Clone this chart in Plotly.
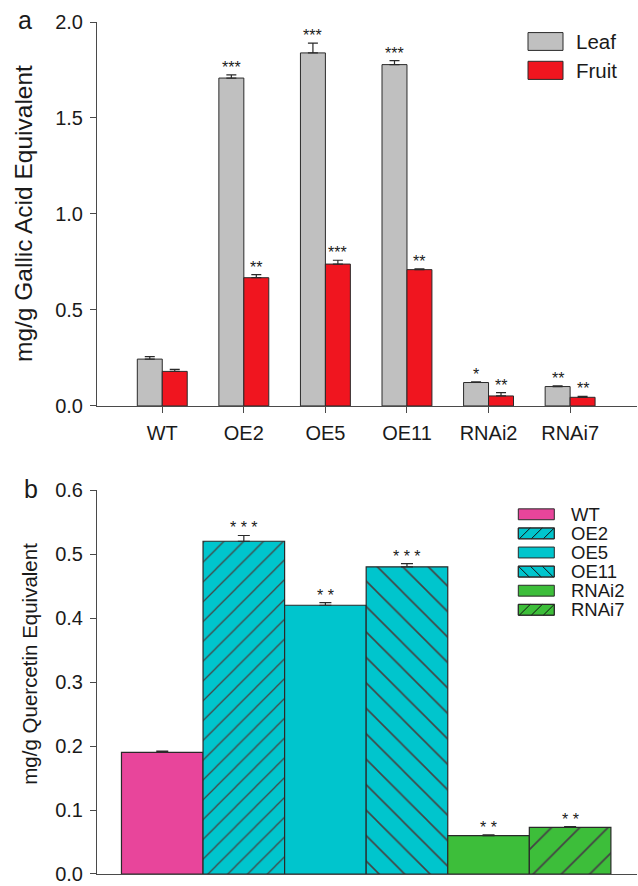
import plotly.graph_objects as go

# ---- data -------------------------------------------------------------
lines_ = ["WT", "OE2", "OE5", "OE11", "RNAi2", "RNAi7"]

# panel a: total phenolics (mg/g gallic acid equivalent)
leaf_vals = [0.244, 1.708, 1.839, 1.778, 0.122, 0.101]
leaf_err = [0.013, 0.017, 0.051, 0.021, 0.004, 0.004]
leaf_sig = ["", "***", "***", "***", "*", "**"]
fruit_vals = [0.180, 0.668, 0.739, 0.710, 0.052, 0.045]
fruit_err = [0.010, 0.016, 0.020, 0.004, 0.017, 0.005]
fruit_sig = ["", "**", "***", "**", "**", "**"]

# panel b: total flavonoids (mg/g quercetin equivalent)
flav_vals = [0.190, 0.520, 0.420, 0.480, 0.060, 0.073]
flav_err = [0.002, 0.009, 0.004, 0.005, 0.001, 0.001]
flav_sig = ["", "* * *", "* *", "* * *", "* *", "* *"]

yticks_a = [0.0, 0.5, 1.0, 1.5, 2.0]
yticks_b = [0.0, 0.1, 0.2, 0.3, 0.4, 0.5, 0.6]

# ---- styling ------------------------------------------------------------
FONT = "Liberation Sans, Arial, sans-serif"
TXT = "#1a1a1a"
AXC = "#4a4a4a"
EDGE = "#2a2a2a"
LEAF_C = "#C0C0C0"
FRUIT_C = "#F0151F"
flav_colors = ["#E8459B", "#00C5CD", "#00C5CD", "#00C5CD", "#3DBE3A", "#3DBE3A"]
flav_hatch = ["", "/", "", "\\", "", "/"]
flav_hsize = [10, 14, 10, 18, 10, 20]

TICK_FS = 20
LEG_A_FS = 20.5
LEG_B_FS = 18.5

W, H = 638, 886
ML, MR, MT, MB = 97, 1, 22, 3
PW, PH = W - ML - MR, H - MT - MB


def fx(px):
    return (px - ML) / PW


def fy(py):
    return (H - MB - py) / PH


XR = [-0.8, 5.82]
BW_A = 0.306

fig = go.Figure()

# panel a bars
fig.add_trace(go.Bar(
    x=lines_, y=leaf_vals, width=BW_A, offset=-BW_A, name="Leaf",
    marker=dict(color=LEAF_C, line=dict(color=EDGE, width=1)),
    error_y=dict(type="data", array=leaf_err, arrayminus=[0] * 6, symmetric=False,
                 color=EDGE, thickness=1.2, width=5),
    xaxis="x", yaxis="y", showlegend=False))
fig.add_trace(go.Bar(
    x=lines_, y=fruit_vals, width=BW_A, offset=0, name="Fruit",
    marker=dict(color=FRUIT_C, line=dict(color=EDGE, width=1)),
    error_y=dict(type="data", array=fruit_err, arrayminus=[0] * 6, symmetric=False,
                 color=EDGE, thickness=1.2, width=5),
    xaxis="x", yaxis="y", showlegend=False))

# panel b bars
fig.add_trace(go.Bar(
    x=lines_, y=flav_vals, width=1.0, offset=-0.5,
    marker=dict(color=flav_colors, line=dict(color=EDGE, width=1.2),
                pattern=dict(shape=flav_hatch, size=flav_hsize, solidity=0.09,
                             fgcolor="#111111", fgopacity=1, fillmode="overlay")),
    error_y=dict(type="data", array=flav_err, arrayminus=[0] * 6, symmetric=False,
                 color=EDGE, thickness=1.2, width=6),
    xaxis="x2", yaxis="y2", showlegend=False))

ann = []
# significance marks
for i in range(len(lines_)):
    if leaf_sig[i]:
        ann.append(dict(x=i - BW_A / 2, y=leaf_vals[i] + leaf_err[i], xref="x", yref="y",
                        text=leaf_sig[i], showarrow=False, yanchor="bottom",
                        font=dict(family=FONT, size=16, color=TXT), yshift=-3))
    if fruit_sig[i]:
        ann.append(dict(x=i + BW_A / 2, y=fruit_vals[i] + fruit_err[i], xref="x", yref="y",
                        text=fruit_sig[i], showarrow=False, yanchor="bottom",
                        font=dict(family=FONT, size=16, color=TXT), yshift=-3))
    if flav_sig[i]:
        ann.append(dict(x=i, y=flav_vals[i] + flav_err[i], xref="x2", yref="y2",
                        text=flav_sig[i], showarrow=False, yanchor="bottom",
                        font=dict(family=FONT, size=16, color=TXT), yshift=-3))

# axis titles and panel letters
ann.append(dict(x=fx(24), y=fy(216), xref="paper", yref="paper", textangle=-90,
                text="mg/g Gallic Acid Equivalent", showarrow=False,
                xanchor="center", yanchor="middle", font=dict(family=FONT, size=24.5, color=TXT)))
ann.append(dict(x=fx(29.5), y=fy(671), xref="paper", yref="paper", textangle=-90,
                text="mg/g Quercetin Equivalent", showarrow=False,
                xanchor="center", yanchor="middle", font=dict(family=FONT, size=20.5, color=TXT)))
ann.append(dict(x=fx(25), y=fy(19.5), xref="paper", yref="paper", text="a", showarrow=False,
                xanchor="center", yanchor="middle", font=dict(family=FONT, size=25, color=TXT)))
ann.append(dict(x=fx(31), y=fy(494), xref="paper", yref="paper", text="b", showarrow=False,
                xanchor="center", yanchor="middle", font=dict(family=FONT, size=25, color=TXT)))

shapes = []


def box(x0, y0, x1, y1, color):
    shapes.append(dict(type="rect", xref="paper", yref="paper",
                       x0=fx(x0), x1=fx(x1), y0=fy(y1), y1=fy(y0),
                       fillcolor=color, line=dict(color=EDGE, width=1), layer="above"))


def hatch(x0, y0, x1, y1, kind, step):
    # 45-degree hatch lines clipped to a pixel box (y grows downward)
    h = y1 - y0
    k = x0 - h
    while k < x1:
        # "/" runs from bottom-left (k, y1) to top-right (k + h, y0)
        ax, ay, bx, by = k, y1, k + h, y0
        if ax < x0:
            ay -= (x0 - ax)
            ax = x0
        if bx > x1:
            by += (bx - x1)
            bx = x1
        if bx > ax:
            if kind == "\\":
                ax, bx = x0 + x1 - ax, x0 + x1 - bx
            shapes.append(dict(type="line", xref="paper", yref="paper",
                               x0=fx(ax), y0=fy(ay), x1=fx(bx), y1=fy(by),
                               line=dict(color="#111111", width=1), layer="above"))
        k += step


# legend for panel a
legend_a = [("Leaf", LEAF_C, 32.7, 50.7), ("Fruit", FRUIT_C, 61.7, 80.0)]
for name, col, y0, y1 in legend_a:
    box(528, y0, 563, y1, col)
    ann.append(dict(x=fx(574), y=fy((y0 + y1) / 2), xref="paper", yref="paper", text=name,
                    showarrow=False, xanchor="left", yanchor="middle",
                    font=dict(family=FONT, size=LEG_A_FS, color=TXT)))

# legend for panel b
for i, name in enumerate(lines_):
    cy = 519.5 + i * 19.3
    y0, y1 = cy - 5.5, cy + 5.5
    box(518.3, y0, 554.3, y1, flav_colors[i])
    if flav_hatch[i]:
        hatch(518.3, y0, 554.3, y1, flav_hatch[i], 12)
        shapes.append(dict(type="rect", xref="paper", yref="paper",
                           x0=fx(518.3), x1=fx(554.3), y0=fy(y1), y1=fy(y0),
                           line=dict(color=EDGE, width=1), layer="above"))
    ann.append(dict(x=fx(569), y=fy(cy), xref="paper", yref="paper", text=name,
                    showarrow=False, xanchor="left", yanchor="middle",
                    font=dict(family=FONT, size=LEG_B_FS, color=TXT)))

axis_common = dict(showline=True, linecolor=AXC, linewidth=1, showgrid=False, zeroline=False,
                   ticks="outside", ticklen=6, tickcolor=AXC, tickwidth=1,
                   tickfont=dict(family=FONT, size=TICK_FS, color=TXT))

fig.update_layout(
    width=W, height=H,
    margin=dict(l=ML, r=MR, t=MT, b=MB),
    paper_bgcolor="white", plot_bgcolor="white",
    barmode="overlay", showlegend=False,
    xaxis=dict(domain=[0, 1], anchor="y", range=XR, type="category",
               categoryorder="array", categoryarray=lines_, ticklabelstandoff=3,
               **axis_common),
    yaxis=dict(domain=[fy(410), 1], anchor="x", range=[0, 2.0], tickvals=yticks_a,
               tickformat=".1f", ticklabelstandoff=3, **axis_common),
    xaxis2=dict(domain=[0, 1], anchor="y2", range=XR, type="category",
                categoryorder="array", categoryarray=lines_,
                showline=True, linecolor=AXC, linewidth=1, showgrid=False, zeroline=False,
                ticks="", showticklabels=False),
    yaxis2=dict(domain=[0, fy(495)], anchor="x2", range=[0, 0.6], tickvals=yticks_b,
                tickformat=".1f", ticklabelstandoff=3, **axis_common),
    annotations=ann,
    shapes=shapes,
)

fig.write_html("out.html")
